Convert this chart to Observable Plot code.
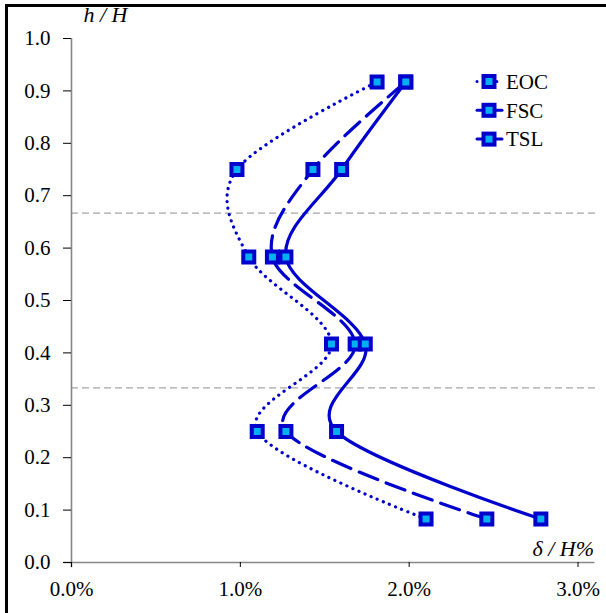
<!DOCTYPE html>
<html>
<head>
<meta charset="utf-8">
<script src="https://cdn.jsdelivr.net/npm/d3@7"></script>
<script src="https://cdn.jsdelivr.net/npm/@observablehq/plot@0.6"></script>
<style>
  html, body { margin: 0; padding: 0; background: #fff; overflow: hidden; }
  #wrap { position: relative; width: 606px; height: 613px; }
  #frame { position: absolute; left: 5px; top: 4px; width: 620px; height: 640px;
           border-left: 3px solid #000; border-top: 3px solid #000; box-sizing: border-box; pointer-events: none; }
  #legend { position: absolute; left: 0; top: 0; }
  svg text, svg g { font-family: "Liberation Serif", "Times New Roman", serif !important; font-variant: normal !important; }
</style>
</head>
<body>
<div id="wrap"><div id="chart"></div><div id="frame"></div></div>
<script>
// h/H levels (bottom to top)
const hH = [0.083, 0.25, 0.417, 0.583, 0.75, 0.917];
// δ/H in percent
const EOC = [2.10, 1.10, 1.54, 1.05, 0.98, 1.81];
const FSC = [2.46, 1.27, 1.68, 1.19, 1.43, 1.98];
const TSL = [2.78, 1.57, 1.74, 1.27, 1.60, 1.98];
const seriesNames = ["EOC", "FSC", "TSL"];
const xTicks = [0, 1, 2, 3];
const yTicks = [0, 0.1, 0.2, 0.3, 0.4, 0.5, 0.6, 0.7, 0.8, 0.9, 1.0];
const thirds = [1/3, 2/3];

const lineColor = "#0000CC";
const fillColor = "#00B0F0";
const dashes = {EOC: "0.1 6.5", FSC: "20 9", TSL: null};
const values = {EOC, FSC, TSL};

const rows = seriesNames.flatMap(s => values[s].map((v, i) => ({s, x: v, y: hH[i]})));
const font = "'Liberation Serif', 'Times New Roman', serif";

const marks = [
  Plot.ruleY(thirds, {x1: 0, x2: 3.12, stroke: "#A6A6A6", strokeWidth: 1.3, strokeDasharray: "7 4"}),
  Plot.ruleX([0], {y1: -0.01, y2: 1, stroke: "#868686", strokeWidth: 1.6}),
  Plot.ruleY([0], {x1: -0.045, x2: 3.1, stroke: "#868686", strokeWidth: 1.6}),
  Plot.axisY(yTicks, {label: null, tickSize: 8, tickPadding: 13, tickFormat: d => d.toFixed(1), fontSize: 21, stroke: "#000"}),
  Plot.axisX(xTicks, {label: null, tickSize: 5, tickPadding: 14, tickFormat: d => d.toFixed(1) + "%", fontSize: 21, stroke: "#000"}),
];
for (const s of seriesNames) {
  marks.push(Plot.line(rows.filter(r => r.s === s), {
    x: "x", y: "y", curve: "cardinal", tension: 0,
    stroke: lineColor, strokeWidth: 3.2,
    strokeDasharray: dashes[s], strokeLinecap: "round"
  }));
}
for (const s of seriesNames) {
  marks.push(Plot.dot(rows.filter(r => r.s === s), {
    x: "x", y: "y", symbol: "square", r: 6.2,
    fill: fillColor, stroke: lineColor, strokeWidth: 4
  }));
}
marks.push(Plot.text(["h / H"], {frameAnchor: "top-left", dx: 12, dy: -17, fontStyle: "italic", fontSize: 22, textAnchor: "start", lineAnchor: "bottom"}));
marks.push(Plot.text(["δ / H%"], {frameAnchor: "bottom-right", dx: 16, dy: -7, fontStyle: "italic", fontSize: 22, textAnchor: "end", lineAnchor: "bottom"}));

const plot = Plot.plot({
  width: 606, height: 613,
  marginLeft: 71, marginRight: 28.5, marginTop: 38, marginBottom: 51,
  x: {domain: [0, 3]},
  y: {domain: [0, 1]},
  style: {fontFamily: font, fontSize: "21px", color: "#000", background: "transparent", overflow: "visible"},
  marks
});
document.getElementById("chart").appendChild(plot);

// legend
const leg = d3.select("#wrap").append("svg").attr("id", "legend")
  .attr("width", 606).attr("height", 613);
seriesNames.forEach((s, i) => {
  const cy = 81.5 + i * 28.8;
  const g = leg.append("g");
  g.append("line").attr("x1", 477).attr("x2", 502).attr("y1", cy).attr("y2", cy)
    .attr("stroke", lineColor).attr("stroke-width", 3).attr("stroke-linecap", "round")
    .attr("stroke-dasharray", s === "EOC" ? "0.1 6.5" : null);
  g.append("rect").attr("x", 489 - 5.5).attr("y", cy - 5.5).attr("width", 11).attr("height", 11)
    .attr("fill", fillColor).attr("stroke", lineColor).attr("stroke-width", 4);
  g.append("text").attr("x", 506).attr("y", cy).attr("dy", "0.35em")
    .attr("font-size", 21).attr("fill", "#000").text(s);
});
</script>
</body>
</html>
